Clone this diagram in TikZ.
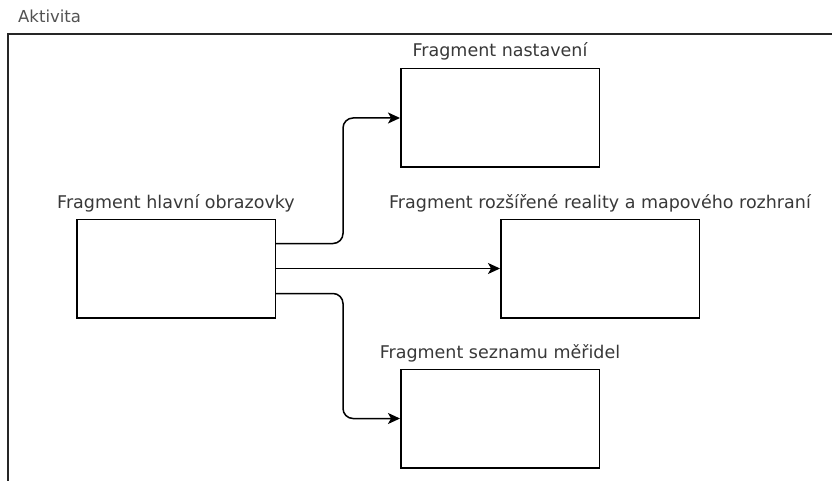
\documentclass[tikz,border=0pt]{standalone}
\usepackage{fontspec}
\setmainfont{DejaVu Sans}
\usetikzlibrary{arrows.meta}
\begin{document}
\begin{tikzpicture}[x=1pt,y=-1pt,
  fragbox/.style={draw=black,line width=1.5pt,minimum width=198.5pt,minimum height=98.5pt,inner sep=0pt},
  fraglabel/.style={anchor=base,text=black!78,font=\fontsize{17.5}{20}\selectfont,inner sep=0pt},
  flow/.style={draw=black,line width=1.5pt,rounded corners=10pt,-{Stealth[length=12pt,width=11pt,inset=3pt]}}]
  \useasboundingbox (0,0) rectangle (832,481);
  % activity frame (continues past the page edges)
  \draw[line width=1.5pt,draw=black!85] (8,481) -- (8,34) -- (832,34);
  \node[anchor=base west,text=black!68,font=\fontsize{16.5}{20}\selectfont,inner sep=0pt] (akt) at (18,23) {Aktivita};
  % fragments
  \node[fragbox] (main) at (176,268.5) {};
  \node[fragbox] (set) at (500,118) {};
  \node[fragbox] (ar) at (600,268.5) {};
  \node[fragbox] (list) at (500,418.5) {};
  \node[fraglabel] (mainL) at (176,208) {Fragment hlavní obrazovky};
  \node[fraglabel] (setL) at (500,57) {Fragment nastavení};
  \node[fraglabel] (arL) at (600,208) {Fragment rozšířené reality a mapového rozhraní};
  \node[fraglabel] (listL) at (500,358) {Fragment seznamu měřidel};
  % navigation (yshift works in page units, so positive is upward)
  \draw[flow] ([yshift=25pt]main.east) -| (343,118) -- (set.west);
  \draw[flow] (main.east) -- (ar.west);
  \draw[flow] ([yshift=-25pt]main.east) -| (343,418.5) -- (list.west);
\end{tikzpicture}
\end{document}
